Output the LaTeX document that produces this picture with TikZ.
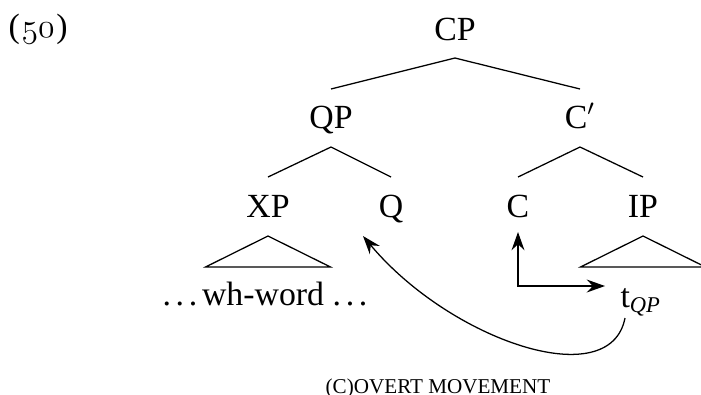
\documentclass[tikz,border=0pt]{standalone}
\usepackage{fontspec}
\setmainfont{Liberation Serif}
\usetikzlibrary{arrows.meta}
\newcommand{\dotsx}{.\kern0.14em.\kern0.14em.}
\newcommand{\osnum}[1]{{\usefont{OML}{cmm}{m}{it}#1}}
\begin{document}
\begin{tikzpicture}[x=0.355pt,y=-0.355pt,
  lab/.style={inner sep=0pt,anchor=base,font=\fontsize{12}{14}\selectfont},
  branch/.style={line width=0.45pt},
  arr/.style={line width=0.45pt,>={Stealth[length=6.5pt,width=4.6pt,inset=2.2pt]}},
]
\useasboundingbox (0,0) rectangle (701,394);
\node[lab,anchor=base west] (ex) at (8,37) {(\kern0.05em\osnum{50}\kern0.05em)};
\node[lab] (cp) at (455,40) {CP};
\node[lab] (qp) at (331,128) {QP};
\node[lab] (cbar) at (580,128) {C$'$};
\node[lab] (xp) at (268,217) {XP};
\node[lab] (q) at (391,217) {Q};
\node[lab] (c) at (518,217) {C};
\node[lab] (ip) at (643,217) {IP};
\node[lab] (wh) at (265,305) {\dotsx\kern0.14em wh-word \dotsx};
\node[lab,anchor=base west] (t) at (620,307) {t\textsubscript{\textit{QP}}};
\node[inner sep=0pt,anchor=base,font=\fontsize{7.5}{9}\selectfont] (cap) at (438,393) {(C)OVERT MOVEMENT};
% branches
\draw[branch] ([shift={(0,18)}]cp.base) -- ([shift={(0,-39)}]qp.base);
\draw[branch] ([shift={(0,18)}]cp.base) -- ([shift={(0,-39)}]cbar.base);
\draw[branch] ([shift={(0,19)}]qp.base) -- ([shift={(0,-40)}]xp.base);
\draw[branch] ([shift={(0,19)}]qp.base) -- ([shift={(0,-40)}]q.base);
\draw[branch] ([shift={(0,19)}]cbar.base) -- ([shift={(0,-40)}]c.base);
\draw[branch] ([shift={(0,19)}]cbar.base) -- ([shift={(0,-40)}]ip.base);
% triangles
\draw[branch] ([shift={(0,19)}]xp.base) -- ([shift={(-62.5,50)}]xp.base) -- ([shift={(62.5,50)}]xp.base) -- cycle;
\draw[branch] ([shift={(0,19)}]ip.base) -- ([shift={(-62.5,50)}]ip.base) -- ([shift={(62.5,50)}]ip.base) -- cycle;
% movement arrows
\draw[arr,<->] ([shift={(-15,-21)}]t.base west) -| ([shift={(0,15)}]c.base);
\draw[arr,->] ([shift={(5,11)}]t.base west) .. controls (610,395) and (450,340) .. ([shift={(-28,19)}]q.base);
\end{tikzpicture}
\end{document}
